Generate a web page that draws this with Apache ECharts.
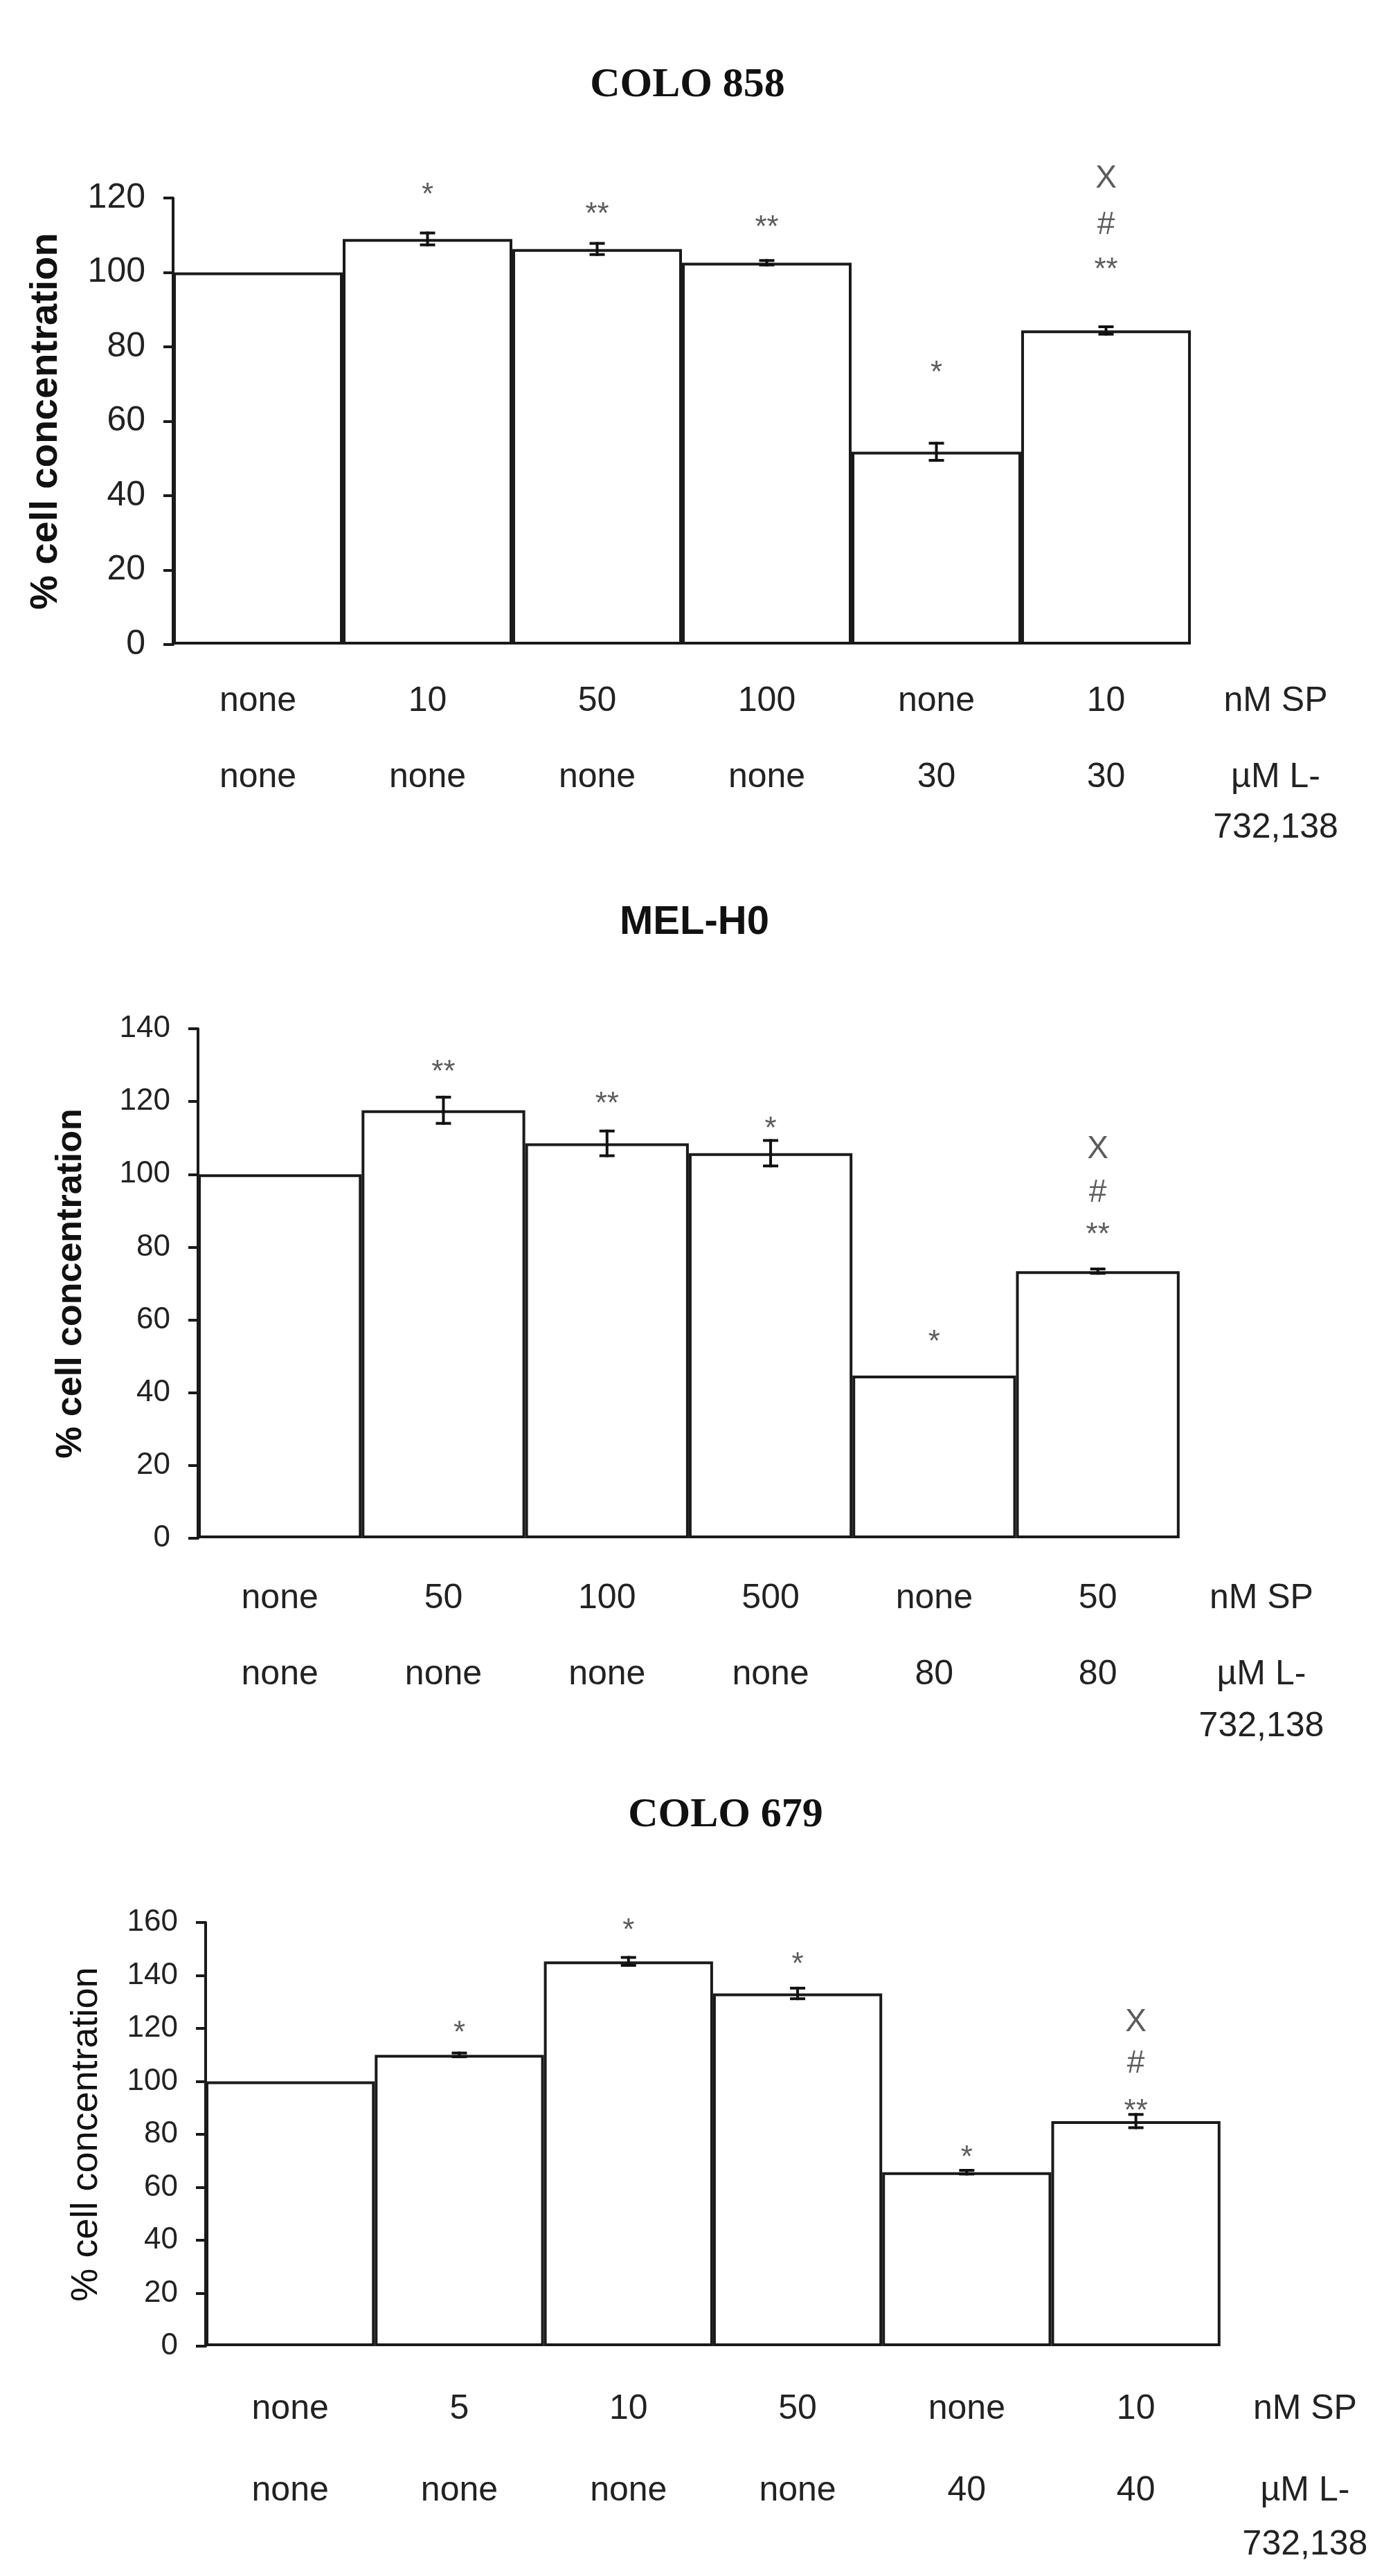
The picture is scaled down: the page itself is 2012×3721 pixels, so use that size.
<!DOCTYPE html>
<html>
<head>
<meta charset="utf-8">
<title>% cell concentration</title>
<script src="https://cdn.jsdelivr.net/npm/echarts@6/dist/echarts.min.js"></script>
<style>
  html, body { margin: 0; padding: 0; background: #fff; }
  #main { width: 2012px; height: 3721px; }
</style>
</head>
<body>
<div id="main"></div>
<script>
// ---- data ----
// COLO 858
var sp1 = ['none', '10', '50', '100', 'none', '10'];
var lt1 = ['none', 'none', 'none', 'none', '30', '30'];
var val1 = [100, 109, 106.3, 102.6, 51.8, 84.4];
var err1 = [0, 1.6, 1.5, 0.6, 2.3, 1.0];
var markCat1 = [1, 2, 3, 4, 5, 5, 5];
var markVal1 = [122.6, 117.5, 113.8, 74.8, 102.5, 112.7, 125.2];
var markTxt1 = ['*', '**', '**', '*', '**', '#', 'X'];

// MEL-H0
var sp2 = ['none', '50', '100', '500', 'none', '50'];
var lt2 = ['none', 'none', 'none', 'none', '80', '80'];
var val2 = [100, 117.6, 108.5, 105.8, 44.7, 73.4];
var err2 = [0, 3.6, 3.4, 3.5, 0, 0.6];
var markCat2 = [1, 2, 3, 4, 5, 5, 5];
var markVal2 = [130, 121.2, 114.3, 55.7, 85.2, 94.8, 106.9];
var markTxt2 = ['**', '**', '*', '*', '**', '#', 'X'];

// COLO 679
var sp3 = ['none', '5', '10', '50', 'none', '10'];
var lt3 = ['none', 'none', 'none', 'none', '40', '40'];
var val3 = [100, 110, 145.3, 133.2, 65.7, 85];
var err3 = [0, 0.7, 1.5, 2, 0.7, 2.5];
var markCat3 = [1, 2, 3, 4, 5, 5, 5];
var markVal3 = [120.8, 159.6, 146.7, 73.8, 91.3, 106.5, 122.3];
var markTxt3 = ['*', '*', '*', '*', '**', '#', 'X'];

var yMax = [120, 140, 160];
var titles = ['COLO 858', 'MEL-H0', 'COLO 679'];
var rowSP = 'nM SP';
var rowL = ['µM L-', '732,138'];
var yName = '% cell concentration';

// ---- layout per panel ----
var panels = [
  { sp: sp1, lt: lt1, val: val1, err: err1, mc: markCat1, mv: markVal1, mt: markTxt1,
    titleFont: 'Liberation Serif', titleX: 988, titleTop: 88,
    left: 250, top: 286, height: 645, cat: 245,
    nameWeight: 'bold', nameSize: 56, nameGap: 155, tickSize: 50,
    labMargin: 27, rowH: 110, row3H: 36 },
  { sp: sp2, lt: lt2, val: val2, err: err2, mc: markCat2, mv: markVal2, mt: markTxt2,
    titleFont: 'Liberation Sans', titleX: 998, titleTop: 1299,
    left: 286, top: 1486, height: 736, cat: 236.3,
    nameWeight: 'bold', nameSize: 52, nameGap: 157, tickSize: 44,
    labMargin: 32, rowH: 110, row3H: 40 },
  { sp: sp3, lt: lt3, val: val3, err: err3, mc: markCat3, mv: markVal3, mt: markTxt3,
    titleFont: 'Liberation Serif', titleX: 1043, titleTop: 2587,
    left: 297, top: 2777, height: 612, cat: 244.3,
    nameWeight: 'normal', nameSize: 54, nameGap: 145, tickSize: 44,
    labMargin: 32, rowH: 118, row3H: 38 }
];

var ink = '#1a1a1a';
var font = 'Liberation Sans, Arial, sans-serif';

var option = {
  animation: false,
  backgroundColor: '#fff',
  title: [], grid: [], xAxis: [], yAxis: [], series: []
};

panels.forEach(function (p, i) {
  option.title.push({
    text: titles[i],
    left: p.titleX,
    top: p.titleTop,
    textAlign: 'center',
    textStyle: { fontFamily: p.titleFont, fontSize: i === 1 ? 58 : 60, fontWeight: 'bold', color: '#111' }
  });

  option.grid.push({ left: p.left, top: p.top, height: p.height, width: p.cat * 7 });

  option.xAxis.push({
    type: 'category',
    gridIndex: i,
    data: ['0', '1', '2', '3', '4', '5', '6'],
    axisLine: { show: false },
    axisTick: { show: false },
    axisLabel: {
      interval: 0,
      margin: p.labMargin,
      color: '#222',
      fontFamily: font,
      fontSize: 50,
      formatter: function (v, idx) {
        if (idx < 6) return '{a|' + p.sp[idx] + '}\n{b|' + p.lt[idx] + '}';
        return '{a|' + rowSP + '}\n{b|' + rowL[0] + '}\n{c|' + rowL[1] + '}';
      },
      rich: {
        a: { fontFamily: font, fontSize: 50, color: '#222', lineHeight: p.rowH },
        b: { fontFamily: font, fontSize: 50, color: '#222', lineHeight: p.rowH },
        c: { fontFamily: font, fontSize: 50, color: '#222', lineHeight: p.row3H }
      }
    }
  });

  option.yAxis.push({
    type: 'value',
    gridIndex: i,
    min: 0,
    max: yMax[i],
    interval: 20,
    name: yName,
    nameLocation: 'middle',
    nameGap: p.nameGap,
    nameTextStyle: { fontFamily: font, fontSize: p.nameSize, fontWeight: p.nameWeight, color: '#111' },
    axisLine: { show: true, lineStyle: { color: ink, width: 4 } },
    axisTick: { show: true, length: 14, lineStyle: { color: ink, width: 4 } },
    axisLabel: { margin: 40, fontFamily: font, fontSize: p.tickSize, color: '#222' },
    splitLine: { show: false }
  });

  option.series.push({
    type: 'bar',
    xAxisIndex: i,
    yAxisIndex: i,
    barCategoryGap: '0%',
    data: p.val.concat(['-']),
    itemStyle: { color: '#fff', borderColor: ink, borderWidth: 4 },
    z: 2
  });

  var errData = [];
  p.err.forEach(function (e, k) { if (e > 0) errData.push([k, p.val[k], e]); });
  option.series.push({
    type: 'custom',
    xAxisIndex: i,
    yAxisIndex: i,
    z: 5,
    data: errData,
    renderItem: function (params, api) {
      var x = api.value(0), v = api.value(1), e = api.value(2);
      var hi = api.coord([x, v + e]), lo = api.coord([x, v - e]);
      var hw = 11;
      var st = { stroke: '#111', lineWidth: 4 };
      return {
        type: 'group',
        children: [
          { type: 'line', shape: { x1: hi[0], y1: hi[1] - 2, x2: lo[0], y2: lo[1] + 2 }, style: st },
          { type: 'line', shape: { x1: hi[0] - hw, y1: hi[1], x2: hi[0] + hw, y2: hi[1] }, style: st },
          { type: 'line', shape: { x1: lo[0] - hw, y1: lo[1], x2: lo[0] + hw, y2: lo[1] }, style: st }
        ]
      };
    }
  });

  // significance marks; some sit above the axis max, so no clipping
  option.series.push({
    type: 'scatter',
    xAxisIndex: i,
    yAxisIndex: i,
    clip: false,
    symbolSize: 1,
    itemStyle: { color: 'rgba(0,0,0,0)' },
    z: 6,
    data: p.mc.map(function (c, k) {
      var star = p.mt[k].charAt(0) === '*';
      return {
        value: [c, p.mv[k]],
        label: {
          show: true,
          position: 'inside',
          formatter: p.mt[k],
          offset: [0, star ? 11 : 0],
          fontFamily: font,
          fontSize: star ? 44 : 46,
          color: '#333'
        }
      };
    })
  });
});

function run() {
  var chart = echarts.init(document.getElementById('main'));
  chart.setOption(option);
}

if (document.readyState !== 'loading') {
  run();
} else {
  document.addEventListener('DOMContentLoaded', run);
}
</script>
</body>
</html>
